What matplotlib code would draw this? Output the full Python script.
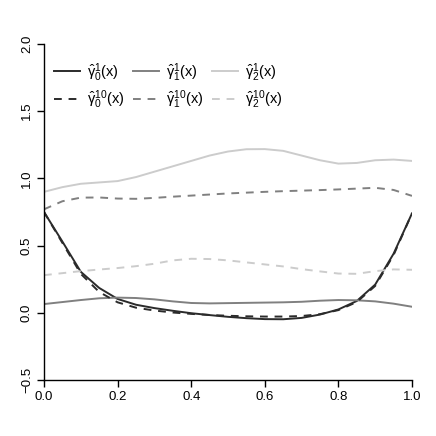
import matplotlib
matplotlib.use("Agg")
import matplotlib.pyplot as plt

x = [0.00, 0.05, 0.10, 0.15, 0.20, 0.25, 0.30, 0.35, 0.40, 0.45, 0.50,
     0.55, 0.60, 0.65, 0.70, 0.75, 0.80, 0.85, 0.90, 0.95, 1.00]

g0_1 = [0.75, 0.53, 0.305, 0.185, 0.103, 0.06, 0.035, 0.015, -0.003, -0.017, -0.03,
        -0.04, -0.047, -0.048, -0.038, -0.013, 0.025, 0.088, 0.21, 0.44, 0.74]
g0_10 = [0.75, 0.52, 0.29, 0.155, 0.078, 0.038, 0.017, 0.002, -0.008, -0.016, -0.022,
         -0.026, -0.028, -0.028, -0.024, -0.01, 0.02, 0.08, 0.2, 0.43, 0.74]
g1_1 = [0.065, 0.08, 0.095, 0.108, 0.113, 0.11, 0.1, 0.085, 0.073, 0.07, 0.072,
        0.074, 0.076, 0.078, 0.082, 0.09, 0.095, 0.093, 0.085, 0.068, 0.045]
g1_10 = [0.77, 0.83, 0.857, 0.858, 0.85, 0.848, 0.855, 0.864, 0.872, 0.88, 0.888,
         0.894, 0.9, 0.905, 0.909, 0.913, 0.918, 0.924, 0.93, 0.914, 0.87]
g2_1 = [0.9, 0.935, 0.96, 0.97, 0.98, 1.01, 1.05, 1.09, 1.13, 1.17, 1.2,
        1.217, 1.218, 1.205, 1.17, 1.135, 1.11, 1.115, 1.135, 1.14, 1.13]
g2_10 = [0.28, 0.295, 0.31, 0.322, 0.333, 0.347, 0.365, 0.39, 0.402, 0.4, 0.39,
         0.375, 0.36, 0.345, 0.325, 0.308, 0.292, 0.29, 0.31, 0.323, 0.32]

lab_g0_1 = r'$\hat{\gamma}^{1}_{0}\mathrm{(x)}$'
lab_g1_1 = r'$\hat{\gamma}^{1}_{1}\mathrm{(x)}$'
lab_g2_1 = r'$\hat{\gamma}^{1}_{2}\mathrm{(x)}$'
lab_g0_10 = r'$\hat{\gamma}^{10}_{0}\mathrm{(x)}$'
lab_g1_10 = r'$\hat{\gamma}^{10}_{1}\mathrm{(x)}$'
lab_g2_10 = r'$\hat{\gamma}^{10}_{2}\mathrm{(x)}$'

xticks = [0.0, 0.2, 0.4, 0.6, 0.8, 1.0]
yticks = [-0.5, 0.0, 0.5, 1.0, 1.5, 2.0]

plt.rcParams['font.family'] = ['Liberation Sans', 'DejaVu Sans']
plt.rcParams['mathtext.fontset'] = 'custom'
plt.rcParams['mathtext.rm'] = 'Liberation Sans'
plt.rcParams['mathtext.it'] = 'Liberation Sans'
plt.rcParams['mathtext.bf'] = 'Liberation Sans:bold'
plt.rcParams['mathtext.fallback'] = 'cm'

fig = plt.figure(figsize=(4.36, 4.36), dpi=100)
ax = fig.add_axes([44/436, 56/436, 368/436, 336/436])

c0, c1, c2 = '#2b2b2b', '#808080', '#cccccc'
dash = (0, (4, 3.5))
lw = 1.4
a1 = ax.plot(x, g0_1, color=c0, lw=lw)[0]
b1 = ax.plot(x, g1_1, color=c1, lw=lw)[0]
d1 = ax.plot(x, g2_1, color=c2, lw=lw)[0]
a2 = ax.plot(x, g0_10, color=c0, lw=lw, ls=dash)[0]
b2 = ax.plot(x, g1_10, color=c1, lw=lw, ls=dash)[0]
d2 = ax.plot(x, g2_10, color=c2, lw=lw, ls=dash)[0]

ax.set_xlim(0, 1)
ax.set_ylim(-0.5, 2.0)
ax.set_xticks(xticks)
ax.set_xticklabels([f'{t:.1f}' for t in xticks])
ax.set_yticks(yticks)
ax.set_yticklabels([f'{t:.1f}'.replace('-', '\u2212') for t in yticks], rotation=90, va='center')
for s in ['top', 'right']:
    ax.spines[s].set_visible(False)
for s in ['left', 'bottom']:
    ax.spines[s].set_linewidth(1.0)
    ax.spines[s].set_color('black')
ax.tick_params(direction='out', length=5, width=1.0, labelsize=9.5, pad=3)

leg = ax.legend([a1, a2, b1, b2, d1, d2],
                [lab_g0_1, lab_g0_10, lab_g1_1, lab_g1_10, lab_g2_1, lab_g2_10],
                ncol=3, frameon=False, loc='upper left',
                bbox_to_anchor=(0.0, 0.98), handlelength=1.8, handletextpad=0.45,
                columnspacing=0.6, labelspacing=0.35, fontsize=10.5, borderaxespad=0.3)

fig.savefig('out.png', dpi=100)
